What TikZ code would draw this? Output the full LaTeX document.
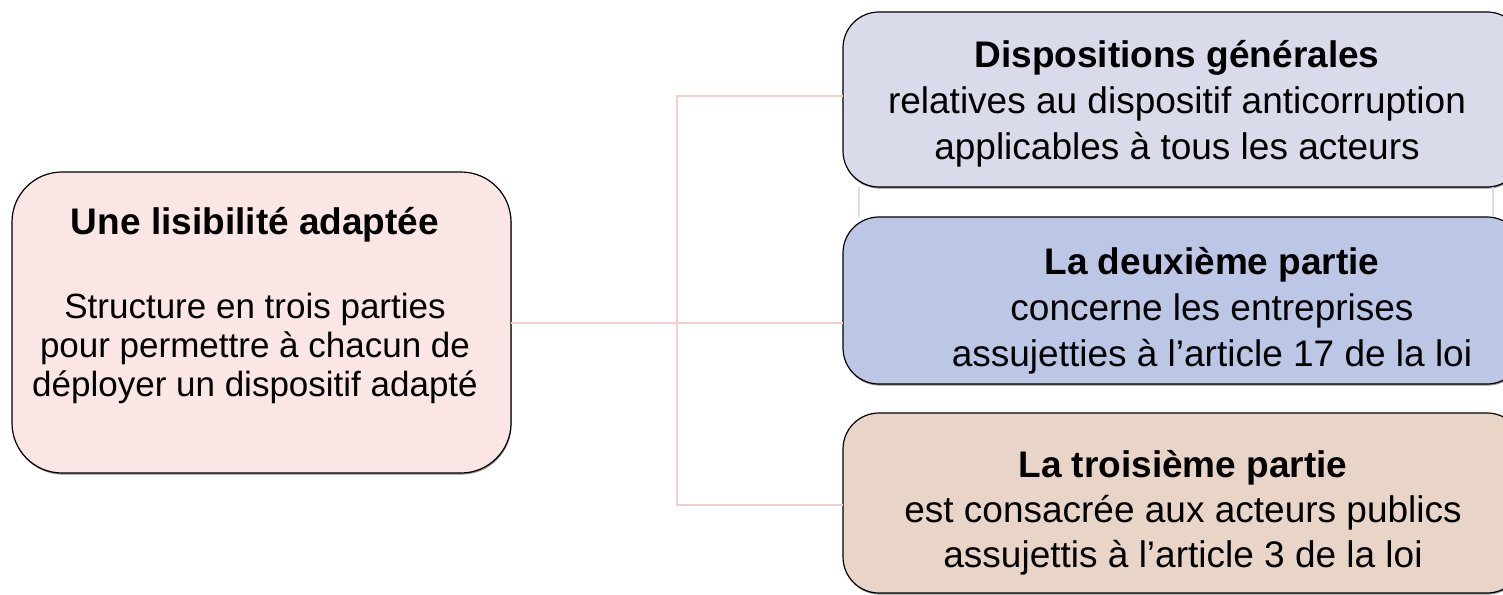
\documentclass[tikz,border=0pt]{standalone}
\usepackage{fontspec}
\setmainfont{Liberation Sans}
\usetikzlibrary{shadows}
\definecolor{lpink}{HTML}{F9E6E5}
\definecolor{lav}{HTML}{D9DAEA}
\definecolor{lblue}{HTML}{BCC7E6}
\definecolor{lbeige}{HTML}{E8D5C8}
\definecolor{connc}{HTML}{F4D0CD}
\definecolor{faintc}{HTML}{DCDDEC}
\begin{document}
\begin{tikzpicture}[x=1pt,y=-1pt,
  box/.style={draw=black, line width=1.2pt, rounded corners=#1, inner sep=0pt, outer sep=0pt,
    drop shadow={shadow xshift=0.6pt, shadow yshift=-1.6pt, fill=black!55, opacity=0.8}},
  conn/.style={draw=connc, line width=2pt},
  faint/.style={draw=faintc, line width=1.2pt},
  ltitle/.style={anchor=base, inner sep=0pt, font=\fontsize{37}{38}\selectfont\bfseries},
  lbody/.style={anchor=base, inner sep=0pt, font=\fontsize{35}{38}\selectfont},
  rtitle/.style={anchor=base, inner sep=0pt, font=\fontsize{37}{45}\selectfont\bfseries},
  rbody/.style={anchor=base, inner sep=0pt, font=\fontsize{37}{45}\selectfont}]
\useasboundingbox (0,0) rectangle (1503,594);
\clip (0,0) rectangle (1503,594);
% boxes
\node[box=50pt, fill=lpink, minimum width=499pt, minimum height=301pt] (L) at (261.5,322.5) {};
\node[box=36pt, fill=lav, minimum width=680pt, minimum height=175pt] (R1) at (1183,99.5) {};
\node[box=36pt, fill=lblue, minimum width=680pt, minimum height=167pt] (R2) at (1183,300.5) {};
\node[box=36pt, fill=lbeige, minimum width=680pt, minimum height=180pt] (R3) at (1183,503) {};
% faint lines between first and second right boxes
\draw[faint] ([xshift=16pt]R1.south west) -- ([xshift=16pt]R2.north west);
\draw[faint] ([xshift=650pt]R1.south west) -- ([xshift=650pt]R2.north west);
% connectors
\coordinate (J) at (677,323);
\draw[conn] (L.east) -- (L.east -| R2.west);
\draw[conn] ([yshift=3.5pt]R1.west) -| (J) |- ([yshift=-2pt]R3.west);
% left text
\node[ltitle] (Lt) at (255,234) {Une lisibilité adaptée};
\node[lbody] (Lb1) at (255,318) {Structure en trois parties};
\node[lbody] (Lb2) at (255,357) {pour permettre à chacun de};
\node[lbody] (Lb3) at (255,396) {déployer un dispositif adapté};
% right box 1
\node[rtitle] (R1t) at (1177,67) {Dispositions générales};
\node[rbody] (R1b1) at (1177,113) {relatives au dispositif anticorruption};
\node[rbody] (R1b2) at (1177,159) {applicables à tous les acteurs};
% right box 2
\node[rtitle] (R2t) at (1212,274) {La deuxième partie};
\node[rbody] (R2b1) at (1212,320) {concerne les entreprises};
\node[rbody] (R2b2) at (1212,366) {assujetties à l’article 17 de la loi};
% right box 3
\node[rtitle] (R3t) at (1183,477) {La troisième partie};
\node[rbody] (R3b1) at (1183,522) {est consacrée aux acteurs publics};
\node[rbody] (R3b2) at (1183,567) {assujettis à l’article 3 de la loi};
\end{tikzpicture}
\end{document}
